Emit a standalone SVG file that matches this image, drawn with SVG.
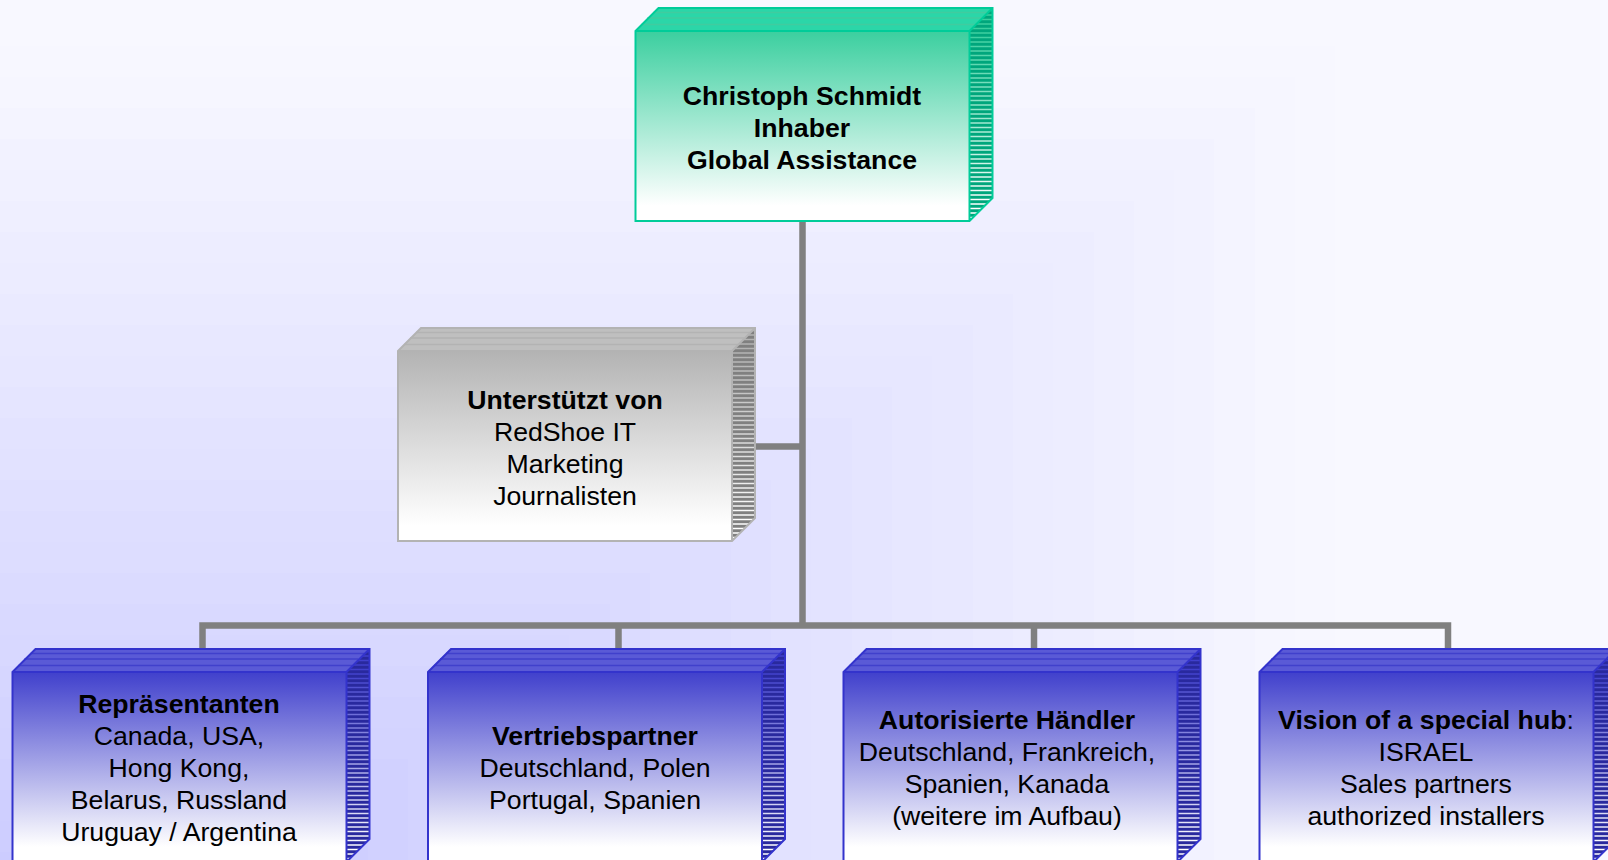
<svg xmlns="http://www.w3.org/2000/svg" width="1608" height="860" viewBox="0 0 1608 860">
<style>
text{font-family:"Liberation Sans",Arial,sans-serif;font-size:26.670px;text-anchor:middle;fill:#000}
.b{font-weight:bold}
.conn{fill:none;stroke:#808080;stroke-width:6.500;stroke-linejoin:miter}
.green{--edge:#00cc99;--top:#2bd6a8;--side:#00a67c;--tl:#40cc9f;--face:url(#fg);--hl:url(#hg)}
.grey{--edge:#b3b3b3;--top:#bfbfbf;--side:#808080;--tl:#b3b3b3;--face:url(#fy);--hl:url(#hy)}
.blue{--edge:#3333cc;--top:#5a5ad6;--side:#29299e;--tl:#4040cc;--face:url(#fb);--hl:url(#hb)}
.edge{fill:none;stroke:var(--edge);stroke-width:2}
.top{fill:var(--top)}.side{fill:var(--side)}.face{fill:var(--face)}
.tl{fill:none;stroke-width:1.500;stroke:var(--tl)}
.hl{fill:none;stroke-width:1.500;stroke:var(--hl)}
</style>
<defs>
<linearGradient id="fg" x1="0" y1="0" x2="0" y2="1"><stop offset="0" stop-color="#3bcf9f"/><stop offset=".92" stop-color="#fff"/></linearGradient>
<linearGradient id="fy" x1="0" y1="0" x2="0" y2="1"><stop offset="0" stop-color="#b3b3b3"/><stop offset=".92" stop-color="#fff"/></linearGradient>
<linearGradient id="fb" x1="0" y1="0" x2="0" y2="1"><stop offset="0" stop-color="#4040cc"/><stop offset=".92" stop-color="#fff"/></linearGradient>
<linearGradient id="hg" gradientUnits="userSpaceOnUse" x1="0" y1="0" x2="0" y2="190"><stop offset="0" stop-color="#3bcf9f"/><stop offset=".92" stop-color="#fff"/></linearGradient>
<linearGradient id="hy" gradientUnits="userSpaceOnUse" x1="0" y1="0" x2="0" y2="190"><stop offset="0" stop-color="#b3b3b3"/><stop offset=".92" stop-color="#fff"/></linearGradient>
<linearGradient id="hb" gradientUnits="userSpaceOnUse" x1="0" y1="0" x2="0" y2="190"><stop offset="0" stop-color="#4040cc"/><stop offset=".92" stop-color="#fff"/></linearGradient>
<clipPath id="sc"><path d="M334 0L357 -23V167L334 190Z"/></clipPath>
<g id="box">
<path class="top" d="M0 0L23 -23H357L334 0Z"/>
<path class="tl" d="M18 -18.500H352M12 -13H346M6 -6.500H340"/>
<path class="side" d="M334 0L357 -23V167L334 190Z"/>
<g clip-path="url(#sc)"><path class="hl" d="M334 -20.500H357M334 -16H357M334 -11.500H357M334 -7H357M334 -2.500H357M334 2H357M334 6.500H357M334 11H357M334 15.500H357M334 20H357M334 24.500H357M334 29H357M334 33.500H357M334 38H357M334 42.500H357M334 47H357M334 51.500H357M334 56H357M334 60.500H357M334 65H357M334 69.500H357M334 74H357M334 78.500H357M334 83H357M334 87.500H357M334 92H357M334 96.500H357M334 101H357M334 105.500H357M334 110H357M334 114.500H357M334 119H357M334 123.500H357M334 128H357M334 132.500H357M334 137H357M334 141.500H357M334 146H357M334 150.500H357M334 155H357M334 159.500H357M334 164H357M334 168.500H357M334 173H357M334 177.500H357M334 182H357M334 186.500H357"/></g>
<path class="face" d="M0 0H334V190H0Z"/>
<path class="edge" d="M0 0L23 -23H357V167L334 190H0ZM0 0H334V190M334 0L357 -23"/>
</g>
</defs>
<g id="background">
<rect width="1608" height="860" fill="#f8f8ff"/>
<rect x="-10" y="46" width="1345" height="820" fill="#f7f7ff"/>
<rect x="-10" y="77" width="1305" height="790" fill="#f6f6ff"/>
<rect x="-10" y="108" width="1265" height="760" fill="#f4f4ff"/>
<rect x="-10" y="139" width="1224" height="730" fill="#f2f2ff"/>
<rect x="-10" y="170" width="1184" height="700" fill="#f1f1ff"/>
<rect x="-10" y="201" width="1144" height="670" fill="#efefff"/>
<rect x="-10" y="232" width="1104" height="640" fill="#ededff"/>
<rect x="-10" y="263" width="1063" height="610" fill="#ececff"/>
<rect x="-10" y="294" width="1023" height="580" fill="#eaeaff"/>
<rect x="-10" y="325" width="983" height="550" fill="#e8e8ff"/>
<rect x="-10" y="356" width="942" height="520" fill="#e7e7ff"/>
<rect x="-10" y="387" width="902" height="490" fill="#e5e5ff"/>
<rect x="-10" y="418" width="862" height="460" fill="#e3e3ff"/>
<rect x="-10" y="449" width="821" height="430" fill="#e2e2ff"/>
<rect x="-10" y="480" width="781" height="400" fill="#e0e0ff"/>
<rect x="-10" y="511" width="741" height="370" fill="#dedeff"/>
<rect x="-10" y="542" width="700" height="340" fill="#ddddff"/>
<rect x="-10" y="573" width="660" height="310" fill="#dbdbff"/>
<rect x="-10" y="604" width="620" height="280" fill="#d9d9ff"/>
<rect x="-10" y="635" width="579" height="250" fill="#d8d8ff"/>
<rect x="-10" y="666" width="539" height="220" fill="#d6d6ff"/>
<rect x="-10" y="697" width="499" height="190" fill="#d4d4ff"/>
<rect x="-10" y="728" width="459" height="160" fill="#d3d3ff"/>
<rect x="-10" y="759" width="418" height="130" fill="#d1d1ff"/>
<rect x="-10" y="790" width="378" height="100" fill="#cfcfff"/>
<rect x="-10" y="821" width="338" height="70" fill="#ceceff"/>
<rect x="-10" y="852" width="297" height="40" fill="#ccccff"/>
</g>
<g id="connectors">
<path class="conn" d="M802.500 215V625.500M202.500 652V625.500H1448V652M618.500 625.500V652M1034 625.500V652M750 446.500H802.500"/>
</g>
<g id="node-schmidt" class="green"><use href="#box" x="635.500" y="31"/>
<text class="b" x="802" y="105">Christoph Schmidt</text><text class="b" x="802" y="137">Inhaber</text><text class="b" x="802" y="169">Global Assistance</text></g>
<g id="node-unterstuetzt" class="grey"><use href="#box" x="398" y="351"/>
<text class="b" x="565" y="409">Unterstützt von</text><text x="565" y="441">RedShoe IT</text><text x="565" y="473">Marketing</text><text x="565" y="505">Journalisten</text></g>
<g id="node-repraesentanten" class="blue"><use href="#box" x="12.500" y="672"/>
<text class="b" x="179" y="713">Repräsentanten</text><text x="179" y="745">Canada, USA,</text><text x="179" y="777">Hong Kong,</text><text x="179" y="809">Belarus, Russland</text><text x="179" y="841">Uruguay / Argentina</text></g>
<g id="node-vertrieb" class="blue"><use href="#box" x="428" y="672"/>
<text class="b" x="595" y="745">Vertriebspartner</text><text x="595" y="777">Deutschland, Polen</text><text x="595" y="809">Portugal, Spanien</text></g>
<g id="node-haendler" class="blue"><use href="#box" x="843.500" y="672"/>
<text class="b" x="1007" y="729">Autorisierte Händler</text><text x="1007" y="761">Deutschland, Frankreich,</text><text x="1007" y="793">Spanien, Kanada</text><text x="1007" y="825">(weitere im Aufbau)</text></g>
<g id="node-vision" class="blue"><use href="#box" x="1259.500" y="672"/>
<text x="1426" y="729"><tspan class="b">Vision of a special hub</tspan>:</text><text x="1426" y="761">ISRAEL</text><text x="1426" y="793">Sales partners</text><text x="1426" y="825">authorized installers</text></g>
</svg>
